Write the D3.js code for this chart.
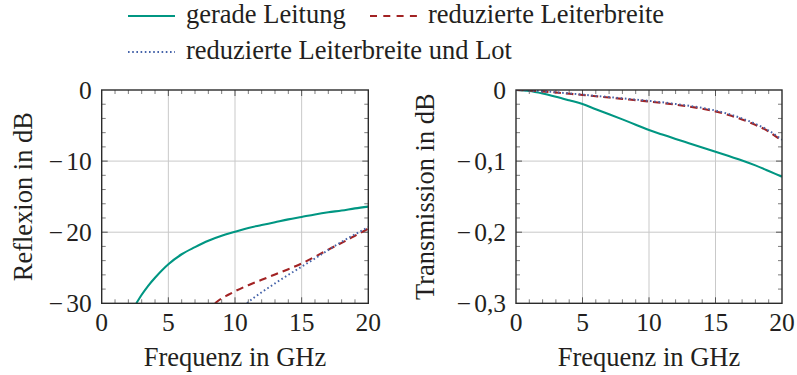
<!DOCTYPE html>
<html><head><meta charset="utf-8">
<script src="https://cdn.jsdelivr.net/npm/d3@7"></script>
<style>
html,body{margin:0;padding:0;background:#fff;}
svg text{font-family:"Liberation Serif","Times New Roman",serif;fill:#231f20;}
</style></head>
<body><svg id="c" width="797" height="375"></svg>
<script>
// ---- data ----
const seriesNames = ["gerade Leitung", "reduzierte Leiterbreite", "reduzierte Leiterbreite und Lot"];
const seriesColors = ["#009682", "#a22223", "#4664aa"];

const reflGeradeF = [2.6, 3, 3.5, 4, 5, 6, 7, 8, 9, 10, 11, 12, 13, 14, 15, 16, 17, 18, 19, 20];
const reflGeradeV = [-30, -28.8, -27.5, -26.4, -24.5, -23.1, -22.1, -21.2, -20.5, -19.95, -19.4, -19.0, -18.6, -18.2, -17.85, -17.5, -17.2, -16.95, -16.65, -16.4];
const reflRedF = [8.5, 9, 9.5, 10, 11, 12, 13, 14, 15, 16, 17, 18, 19, 20];
const reflRedV = [-30, -29.3, -28.8, -28.3, -27.45, -26.7, -25.95, -25.2, -24.4, -23.45, -22.45, -21.5, -20.5, -19.5];
const reflLotF = [10.9, 11.5, 12, 13, 14, 15, 16, 17, 18, 19, 20];
const reflLotV = [-30, -29.1, -28.45, -27.2, -26.0, -24.85, -23.7, -22.5, -21.35, -20.3, -19.3];

const transF = [0, 1, 2, 3, 4, 5, 6, 7, 8, 9, 10, 11, 12, 13, 14, 15, 16, 17, 18, 19, 20];
const transGeradeV = [0, -0.0015, -0.005, -0.0095, -0.0145, -0.0197, -0.027, -0.034, -0.0413, -0.0488, -0.0563, -0.0625, -0.0688, -0.0748, -0.0808, -0.0869, -0.093, -0.099, -0.106, -0.114, -0.122];
const transRedV = [0, -0.0008, -0.002, -0.0035, -0.0052, -0.007, -0.0088, -0.0106, -0.0125, -0.0143, -0.0162, -0.0183, -0.0206, -0.0232, -0.0263, -0.0302, -0.0352, -0.0415, -0.049, -0.0585, -0.0715];
const transLotV = [0, -0.0007, -0.0018, -0.0032, -0.0048, -0.0065, -0.0082, -0.0099, -0.0117, -0.0135, -0.0153, -0.0173, -0.0196, -0.0221, -0.0251, -0.0289, -0.0338, -0.04, -0.0475, -0.057, -0.0700];

const xTicks = [0, 5, 10, 15, 20];
const reflTicks = [0, -10, -20, -30];
const transTicks = [0, -0.1, -0.2, -0.3];

const xLabel = "Frequenz in GHz";
const reflLabel = "Reflexion in dB";
const transLabel = "Transmission in dB";

// ---- drawing ----
const svg = d3.select("#c");
const FS = 26.5;
const TFS = 25.5;
const dashes = [null, "7.5,5", "1.6,2.6"];
const widths = [2.1, 2.1, 1.9];

function panel(id, x0, x1, y0, y1, yDomain, yTicks, yMinorStep, yTitle, titleX, series) {
  const x = d3.scaleLinear().domain([0, 20]).range([x0, x1]);
  const y = d3.scaleLinear().domain(yDomain).range([y1, y0]);
  const g = svg.append("g");
  g.append("clipPath").attr("id", id).append("rect")
    .attr("x", x0).attr("y", y0).attr("width", x1 - x0).attr("height", y1 - y0);
  // grid
  g.append("g").selectAll("line").data(xTicks.slice(1, -1)).join("line")
    .attr("x1", d => x(d)).attr("x2", d => x(d)).attr("y1", y0).attr("y2", y1)
    .attr("stroke", "#c9c9c9").attr("stroke-width", 1);
  g.append("g").selectAll("line").data(yTicks.slice(1, -1)).join("line")
    .attr("y1", d => y(d)).attr("y2", d => y(d)).attr("x1", x0).attr("x2", x1)
    .attr("stroke", "#c9c9c9").attr("stroke-width", 1);
  // minor ticks
  const xMinor = d3.range(1, 20).filter(v => v % 5 !== 0);
  const yMinor = d3.range(0, 16).map(i => yDomain[0] + i * yMinorStep).filter((v, i) => i % 5 !== 0 && v < yDomain[1] - 1e-9);
  const tk = g.append("g").attr("stroke", "#6d6d6d").attr("stroke-width", 0.9);
  xMinor.forEach(v => {
    tk.append("line").attr("x1", x(v)).attr("x2", x(v)).attr("y1", y1).attr("y2", y1 - 4);
    tk.append("line").attr("x1", x(v)).attr("x2", x(v)).attr("y1", y0).attr("y2", y0 + 4);
  });
  yMinor.forEach(v => {
    tk.append("line").attr("y1", y(v)).attr("y2", y(v)).attr("x1", x0).attr("x2", x0 + 4);
    tk.append("line").attr("y1", y(v)).attr("y2", y(v)).attr("x1", x1).attr("x2", x1 - 4);
  });
  const tkM = g.append("g").attr("stroke", "#555").attr("stroke-width", 1);
  xTicks.slice(1, -1).forEach(v => {
    tkM.append("line").attr("x1", x(v)).attr("x2", x(v)).attr("y1", y1).attr("y2", y1 - 6);
    tkM.append("line").attr("x1", x(v)).attr("x2", x(v)).attr("y1", y0).attr("y2", y0 + 6);
  });
  yTicks.slice(1, -1).forEach(v => {
    tkM.append("line").attr("y1", y(v)).attr("y2", y(v)).attr("x1", x0).attr("x2", x0 + 6);
    tkM.append("line").attr("y1", y(v)).attr("y2", y(v)).attr("x1", x1).attr("x2", x1 - 6);
  });
  // series
  const line = d3.line().curve(d3.curveMonotoneX).x(d => x(d[0])).y(d => y(d[1]));
  series.forEach((s, i) => {
    g.append("path").datum(d3.zip(s[0], s[1]))
      .attr("d", line).attr("fill", "none")
      .attr("stroke", seriesColors[i]).attr("stroke-width", widths[i])
      .attr("stroke-dasharray", dashes[i])
      .attr("clip-path", `url(#${id})`);
  });
  // frame
  g.append("rect").attr("x", x0).attr("y", y0).attr("width", x1 - x0).attr("height", y1 - y0)
    .attr("fill", "none").attr("stroke", "#2b2b2b").attr("stroke-width", 1.4);
  // tick labels
  g.append("g").selectAll("text").data(xTicks).join("text")
    .attr("x", d => x(d)).attr("y", 331).attr("text-anchor", "middle")
    .attr("font-size", TFS).text(d => d);
  const yl = g.append("g").selectAll("text").data(yTicks).join("text")
    .attr("x", x0 - 10).attr("y", d => y(d) + 8.5).attr("text-anchor", "end")
    .attr("font-size", TFS);
  yl.each(function(d) {
    const t = d3.select(this);
    if (d < 0) {
      t.append("tspan").text("\u2212");
      t.append("tspan").attr("dx", 3).text(Math.abs(d).toString().replace(".", ","));
    } else {
      t.text("0");
    }
  });
  // titles
  g.append("text").attr("x", (x0 + x1) / 2).attr("y", 366).attr("text-anchor", "middle")
    .attr("font-size", FS).text(xLabel);
  g.append("text").attr("transform", `translate(${titleX},${(y0 + y1) / 2}) rotate(-90)`)
    .attr("text-anchor", "middle").attr("font-size", FS).text(yTitle);
}

panel("clipL", 101.7, 368.3, 90, 303.3, [-30, 0], reflTicks, 2, reflLabel, 32,
  [[reflGeradeF, reflGeradeV], [reflRedF, reflRedV], [reflLotF, reflLotV]]);
panel("clipR", 516, 782, 90, 303.3, [-0.3, 0], transTicks, 0.02, transLabel, 434,
  [[transF, transGeradeV], [transF, transRedV], [transF, transLotV]]);

// legend
const legendItems = [
  {i: 0, lx: 128, ly: 16},
  {i: 1, lx: 370, ly: 16},
  {i: 2, lx: 128, ly: 52}
];
const lg = svg.append("g");
legendItems.forEach(it => {
  lg.append("line").attr("x1", it.lx).attr("x2", it.lx + 47).attr("y1", it.ly).attr("y2", it.ly)
    .attr("stroke", seriesColors[it.i]).attr("stroke-width", widths[it.i])
    .attr("stroke-dasharray", it.i === 1 ? "7,6.3" : dashes[it.i]);
  lg.append("text").attr("x", it.lx + 58).attr("y", it.ly + 7).attr("font-size", FS)
    .text(seriesNames[it.i]);
});
</script></body></html>
